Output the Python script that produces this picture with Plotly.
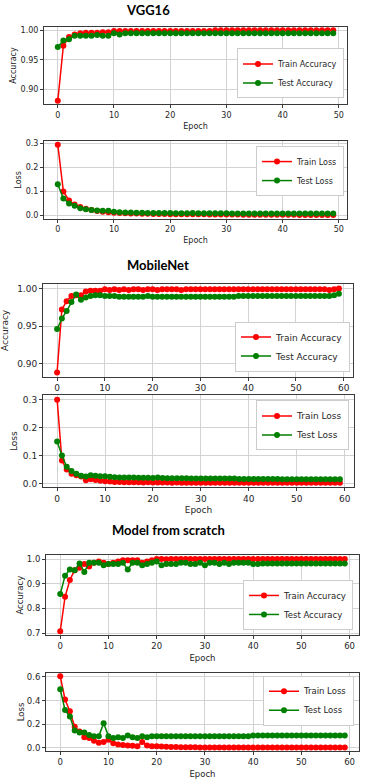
import plotly.graph_objects as go

# ---------------- data ----------------
epochs_vgg = list(range(50))
epochs_mob = list(range(60))
epochs_scr = list(range(60))

vgg_train_acc = [0.881, 0.974, 0.989, 0.993, 0.995, 0.996, 0.996, 0.996, 0.997, 0.997,
                 0.999, 0.999, 0.999, 0.999, 0.999, 0.999, 0.999, 0.999, 0.999, 0.999,
                 0.999, 0.999, 0.999, 0.999, 0.999, 0.999, 0.999, 0.999, 1.000, 1.000,
                 1.000, 1.000, 1.000, 1.000, 1.000, 1.000, 1.000, 1.000, 1.000, 1.000,
                 1.000, 1.000, 1.000, 1.000, 1.000, 1.000, 1.000, 1.000, 1.000, 1.000]
vgg_test_acc = [0.972, 0.983, 0.985, 0.991, 0.991, 0.991, 0.991, 0.992, 0.991, 0.991,
                0.995, 0.993, 0.995, 0.995, 0.995, 0.995, 0.995, 0.995, 0.995, 0.995,
                0.995, 0.995, 0.995, 0.995, 0.995, 0.995, 0.995, 0.995, 0.995, 0.995,
                0.995, 0.995, 0.995, 0.995, 0.995, 0.995, 0.995, 0.995, 0.995, 0.995,
                0.995, 0.995, 0.995, 0.995, 0.995, 0.995, 0.995, 0.995, 0.995, 0.995]
vgg_train_loss = [0.296, 0.100, 0.062, 0.045, 0.035, 0.028, 0.022, 0.018, 0.015, 0.013,
                  0.011, 0.010, 0.009, 0.008, 0.008, 0.007, 0.007, 0.006, 0.006, 0.006,
                  0.005, 0.005, 0.005, 0.004, 0.004, 0.004, 0.004, 0.003, 0.003, 0.003,
                  0.003, 0.003, 0.003, 0.002, 0.002, 0.002, 0.002, 0.002, 0.002, 0.002,
                  0.002, 0.002, 0.002, 0.001, 0.001, 0.001, 0.001, 0.001, 0.001, 0.001]
vgg_test_loss = [0.130, 0.070, 0.050, 0.040, 0.030, 0.025, 0.022, 0.020, 0.019, 0.019,
                 0.015, 0.013, 0.012, 0.012, 0.011, 0.011, 0.010, 0.010, 0.010, 0.010,
                 0.010, 0.009, 0.009, 0.009, 0.010, 0.009, 0.009, 0.009, 0.009, 0.009,
                 0.009, 0.008, 0.008, 0.008, 0.008, 0.008, 0.008, 0.008, 0.008, 0.008,
                 0.008, 0.008, 0.008, 0.008, 0.008, 0.008, 0.008, 0.008, 0.008, 0.008]

mob_train_acc = [0.8885, 0.972, 0.983, 0.990, 0.991, 0.991, 0.996, 0.997, 0.997, 0.997,
                 0.999, 0.998, 0.999, 0.998, 0.999, 0.998, 0.999, 0.999, 0.998, 0.999,
                 0.999, 0.998, 0.999, 0.999, 0.999, 0.999, 0.998, 0.999, 0.999, 0.999,
                 0.999, 0.999, 0.999, 0.999, 0.999, 0.999, 0.999, 0.999, 0.999, 0.999,
                 0.999, 0.999, 0.999, 0.999, 0.999, 0.999, 0.999, 0.999, 0.999, 0.999,
                 0.999, 0.999, 0.999, 0.999, 0.999, 0.999, 0.999, 0.998, 0.999, 1.000]
mob_test_acc = [0.946, 0.960, 0.970, 0.982, 0.992, 0.985, 0.988, 0.990, 0.991, 0.991,
                0.990, 0.990, 0.990, 0.989, 0.989, 0.989, 0.989, 0.989, 0.989, 0.990,
                0.989, 0.989, 0.989, 0.989, 0.989, 0.989, 0.989, 0.989, 0.989, 0.989,
                0.989, 0.989, 0.989, 0.989, 0.989, 0.989, 0.989, 0.989, 0.990, 0.990,
                0.990, 0.990, 0.990, 0.990, 0.990, 0.990, 0.990, 0.990, 0.990, 0.990,
                0.990, 0.990, 0.990, 0.990, 0.990, 0.990, 0.990, 0.990, 0.991, 0.993]
mob_train_loss = [0.300, 0.082, 0.050, 0.035, 0.030, 0.025, 0.012, 0.015, 0.013, 0.010,
                  0.008, 0.007, 0.006, 0.006, 0.005, 0.005, 0.005, 0.005, 0.004, 0.005,
                  0.004, 0.004, 0.004, 0.004, 0.003, 0.004, 0.003, 0.003, 0.003, 0.003,
                  0.003, 0.003, 0.003, 0.003, 0.003, 0.003, 0.003, 0.003, 0.003, 0.003,
                  0.003, 0.003, 0.003, 0.003, 0.003, 0.003, 0.003, 0.003, 0.003, 0.003,
                  0.003, 0.003, 0.003, 0.003, 0.003, 0.003, 0.003, 0.003, 0.003, 0.003]
mob_test_loss = [0.150, 0.100, 0.060, 0.045, 0.035, 0.028, 0.025, 0.030, 0.028, 0.026,
                 0.026, 0.024, 0.023, 0.022, 0.022, 0.022, 0.022, 0.021, 0.021, 0.021,
                 0.020, 0.022, 0.020, 0.019, 0.019, 0.019, 0.019, 0.019, 0.018, 0.018,
                 0.018, 0.018, 0.018, 0.018, 0.018, 0.018, 0.018, 0.018, 0.016, 0.016,
                 0.016, 0.016, 0.016, 0.016, 0.016, 0.016, 0.016, 0.015, 0.015, 0.015,
                 0.015, 0.015, 0.015, 0.015, 0.015, 0.015, 0.015, 0.015, 0.015, 0.015]

scr_train_acc = [0.707, 0.847, 0.915, 0.955, 0.965, 0.980, 0.970, 0.985, 0.990, 0.985,
                 0.980, 0.985, 0.990, 0.995, 0.995, 0.995, 0.995, 0.985, 0.990, 0.995,
                 1.000, 1.000, 0.999, 1.000, 1.000, 1.000, 1.000, 1.000, 1.000, 1.000,
                 1.000, 1.000, 1.000, 1.000, 1.000, 1.000, 1.000, 1.000, 1.000, 1.000,
                 1.000, 1.000, 1.000, 1.000, 1.000, 1.000, 1.000, 1.000, 1.000, 1.000,
                 1.000, 1.000, 1.000, 1.000, 1.000, 1.000, 1.000, 1.000, 1.000, 1.000]
scr_test_acc = [0.858, 0.932, 0.958, 0.955, 0.982, 0.948, 0.985, 0.985, 0.985, 0.975,
                0.980, 0.980, 0.980, 0.985, 0.958, 0.985, 0.985, 0.975, 0.980, 0.985,
                0.990, 0.975, 0.980, 0.980, 0.980, 0.985, 0.985, 0.980, 0.980, 0.985,
                0.975, 0.985, 0.985, 0.980, 0.985, 0.980, 0.985, 0.985, 0.985, 0.985,
                0.980, 0.980, 0.982, 0.982, 0.982, 0.982, 0.982, 0.982, 0.982, 0.982,
                0.982, 0.982, 0.982, 0.982, 0.982, 0.982, 0.982, 0.982, 0.982, 0.982]
scr_train_loss = [0.606, 0.410, 0.310, 0.180, 0.140, 0.090, 0.085, 0.060, 0.045, 0.050,
                  0.070, 0.040, 0.030, 0.025, 0.020, 0.018, 0.015, 0.050, 0.020, 0.015,
                  0.015, 0.012, 0.010, 0.008, 0.008, 0.007, 0.006, 0.006, 0.006, 0.005,
                  0.005, 0.005, 0.005, 0.005, 0.005, 0.005, 0.005, 0.005, 0.005, 0.005,
                  0.003, 0.003, 0.003, 0.003, 0.003, 0.003, 0.003, 0.003, 0.003, 0.003,
                  0.003, 0.003, 0.003, 0.003, 0.003, 0.003, 0.003, 0.003, 0.003, 0.003]
scr_test_loss = [0.496, 0.320, 0.265, 0.147, 0.130, 0.130, 0.110, 0.100, 0.100, 0.208,
                 0.100, 0.085, 0.090, 0.085, 0.105, 0.090, 0.085, 0.100, 0.090, 0.100,
                 0.100, 0.100, 0.100, 0.100, 0.100, 0.100, 0.100, 0.100, 0.100, 0.100,
                 0.100, 0.100, 0.100, 0.100, 0.100, 0.100, 0.100, 0.100, 0.100, 0.100,
                 0.105, 0.105, 0.105, 0.105, 0.105, 0.105, 0.105, 0.105, 0.105, 0.105,
                 0.105, 0.105, 0.105, 0.105, 0.105, 0.105, 0.105, 0.105, 0.105, 0.105]

section_titles = ["VGG16", "MobileNet", "Model from scratch"]
acc_names = ["Train Accuracy", "Test Accuracy"]
loss_names = ["Train Loss", "Test Loss"]
x_ticks_50 = [0, 10, 20, 30, 40, 50]
x_ticks_60 = [0, 10, 20, 30, 40, 50, 60]
acc_ticks_a = [0.90, 0.95, 1.00]
acc_ticks_b = [0.7, 0.8, 0.9, 1.0]
loss_ticks_a = [0.0, 0.1, 0.2, 0.3]
loss_ticks_b = [0.0, 0.2, 0.4, 0.6]

# ---------------- layout helpers ----------------
W, H = 370, 783
TXT = "#262626"
FONT = "DejaVu Sans"


def px_x(p):
    return p / W


def px_y(p):
    return 1 - p / H


def mpl_range(vals, m=0.05):
    lo, hi = min(vals), max(vals)
    s = hi - lo
    return [lo - m * s, hi + m * s]


panels = [
    dict(x=epochs_vgg, tr=vgg_train_acc, te=vgg_test_acc, names=acc_names, ylab="Accuracy",
         box=(44, 347, 25, 103), yticks=acc_ticks_a, fmt=".2f", xticks=x_ticks_50, xlab="Epoch",
         leg=(344, 97, "bottom"), fs=8, stand=2),
    dict(x=epochs_vgg, tr=vgg_train_loss, te=vgg_test_loss, names=loss_names, ylab="Loss",
         box=(44, 347, 140, 218), yticks=loss_ticks_a, fmt=".1f", xticks=x_ticks_50, xlab="Epoch",
         leg=(344, 145, "top"), fs=8, stand=2),
    dict(x=epochs_mob, tr=mob_train_acc, te=mob_test_acc, names=acc_names, ylab="Accuracy",
         box=(43, 353, 284, 377), yticks=acc_ticks_a, fmt=".2f", xticks=x_ticks_60, xlab="",
         leg=(350, 372, "bottom"), fs=9, stand=6),
    dict(x=epochs_mob, tr=mob_train_loss, te=mob_test_loss, names=loss_names, ylab="Loss",
         box=(43, 354, 396, 488), yticks=loss_ticks_a, fmt=".1f", xticks=x_ticks_60, xlab="Epoch",
         leg=(349, 401, "top"), fs=9, stand=3),
    dict(x=epochs_scr, tr=scr_train_acc, te=scr_test_acc, names=acc_names, ylab="Accuracy",
         box=(46, 359, 557, 637), yticks=acc_ticks_b, fmt=".1f", xticks=x_ticks_60, xlab="Epoch",
         leg=(353, 632, "bottom"), fs=8.5, stand=1),
    dict(x=epochs_scr, tr=scr_train_loss, te=scr_test_loss, names=loss_names, ylab="Loss",
         box=(46, 359, 675, 754), yticks=loss_ticks_b, fmt=".1f", xticks=x_ticks_60, xlab="Epoch",
         leg=(354, 678, "top"), fs=8.5, stand=0),
]

fig = go.Figure()
layout = dict(
    width=W, height=H, margin=dict(l=0, r=0, t=0, b=0),
    paper_bgcolor="white", plot_bgcolor="white",
    font=dict(family=FONT, size=8.5, color=TXT),
    showlegend=True, annotations=[],
)

for i, p in enumerate(panels, start=1):
    sfx = "" if i == 1 else str(i)
    lg = "legend" if i == 1 else f"legend{i}"
    for vals, name, col in ((p["tr"], p["names"][0], "red"), (p["te"], p["names"][1], "green")):
        fig.add_trace(go.Scatter(
            x=p["x"], y=vals, name=name, mode="lines+markers",
            line=dict(color=col, width=1.5), marker=dict(color=col, size=6),
            xaxis=f"x{sfx}", yaxis=f"y{sfx}", legend=lg,
        ))
    x0, x1, y0, y1 = p["box"]
    common = dict(showgrid=True, gridcolor="#d3d3d3", gridwidth=1, zeroline=False,
                  showline=True, linecolor="#3a3a3a", linewidth=1, mirror=True,
                  ticks="outside", ticklen=3, tickcolor="#3a3a3a",
                  tickfont=dict(family=FONT, size=p["fs"], color=TXT))
    layout[f"xaxis{sfx}"] = dict(common, domain=[px_x(x0), px_x(x1)], anchor=f"y{sfx}",
                                 range=mpl_range(p["x"]), tickvals=p["xticks"],
                                 title=dict(text=p["xlab"], font=dict(size=p["fs"], family=FONT, color=TXT), standoff=4))
    layout[f"yaxis{sfx}"] = dict(common, domain=[px_y(y1), px_y(y0)], anchor=f"x{sfx}",
                                 range=mpl_range(p["tr"] + p["te"]), tickvals=p["yticks"],
                                 tickformat=p["fmt"],
                                 title=dict(text=p["ylab"], font=dict(size=p["fs"], family=FONT, color=TXT), standoff=p["stand"]))
    lx, ly, anc = p["leg"]
    layout[lg] = dict(x=px_x(lx), y=px_y(ly), xanchor="right", yanchor=anc,
                      bgcolor="white", bordercolor="#cccccc", borderwidth=1,
                      font=dict(family=FONT, size=p["fs"], color=TXT),
                      itemwidth=30, tracegroupgap=0)

title_pos = [(148, 8), (158, 265), (168, 531)]
for t, (tx, ty) in zip(section_titles, title_pos):
    layout["annotations"].append(dict(
        text=f"<b>{t}</b>", x=px_x(tx), y=px_y(ty), xref="paper", yref="paper",
        xanchor="center", yanchor="middle", showarrow=False,
        font=dict(family="Lato", size=13, color="black")))

fig.update_layout(**layout)
fig.write_html("out.html", config={"displayModeBar": False},
               post_script="document.body.style.margin='0';document.body.style.overflow='hidden';")
